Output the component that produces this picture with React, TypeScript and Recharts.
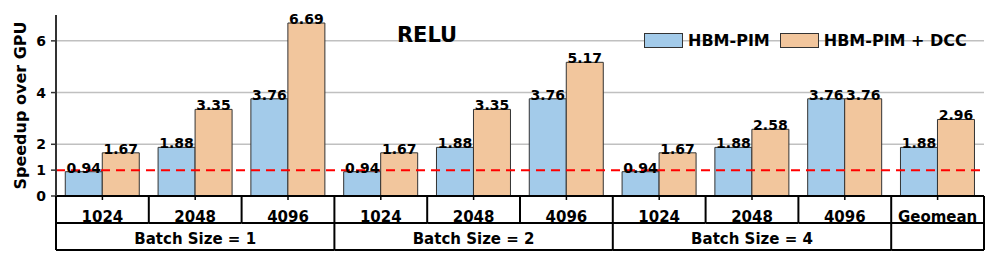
import React from 'react';
import { BarChart, Bar, XAxis, YAxis, CartesianGrid, ReferenceLine, LabelList, Legend } from 'recharts';

const sizes = ['1024', '2048', '4096', '1024', '2048', '4096', '1024', '2048', '4096', 'Geomean'];
const batchGroups = ['Batch Size = 1', 'Batch Size = 2', 'Batch Size = 4', ''];
const batchSpans = [3, 3, 3, 1];
const hbmPim = [0.94, 1.88, 3.76, 0.94, 1.88, 3.76, 0.94, 1.88, 3.76, 1.88];
const hbmPimDcc = [1.67, 3.35, 6.69, 1.67, 3.35, 5.17, 1.67, 2.58, 3.76, 2.96];
const yTicks = [0, 1, 2, 4, 6];
const gridValues = [2, 4, 6];
const titleText = 'RELU';
const yLabelText = 'Speedup over GPU';
const seriesNames = ['HBM-PIM', 'HBM-PIM + DCC'];
const seriesKeys = ['pim', 'dcc'];
const seriesColors = ['#A3CBEA', '#F2C69D'];

const data = sizes.map((s, i) => ({ key: i, size: s, pim: hbmPim[i], dcc: hbmPimDcc[i] }));

const FONT = '"DejaVu Sans", Verdana, sans-serif';
const W = 996;
const H = 258;
const PLOT_LEFT = 56;
const PLOT_RIGHT = 984;
const PLOT_TOP = 15;
const PLOT_BOTTOM = 196;
const ROW_H = 27;

const groupStarts: number[] = [];
{
  let acc = 0;
  for (const s of batchSpans) {
    groupStarts.push(acc);
    acc += s;
  }
}

const TableTick = (props: any) => {
  const { x, index } = props;
  const n = sizes.length;
  const bw = (PLOT_RIGHT - PLOT_LEFT) / n;
  const top = PLOT_BOTTOM;
  const mid = top + ROW_H;
  const bot = mid + ROW_H;
  const left = x - bw / 2;
  const right = x + bw / 2;
  const ls = { stroke: '#000', strokeWidth: 2 };
  const els: React.ReactNode[] = [];
  els.push(<line key="r1" x1={right} x2={right} y1={top} y2={mid} {...ls} />);
  els.push(<line key="h1" x1={left} x2={right} y1={mid} y2={mid} {...ls} />);
  if (index === 0) {
    els.push(<line key="l0" x1={left} x2={left} y1={top} y2={bot} {...ls} />);
  }
  els.push(
    <text key="t1" x={x} y={mid - 1} textAnchor="middle" fontFamily={FONT} fontWeight="bold" fontSize={15} fill="#000">
      {sizes[index]}
    </text>
  );
  const g = groupStarts.indexOf(index);
  if (g >= 0) {
    const gw = batchSpans[g] * bw;
    const gr = left + gw;
    els.push(<line key="r2" x1={gr} x2={gr} y1={mid} y2={bot} {...ls} />);
    els.push(<line key="h2" x1={left} x2={gr} y1={bot} y2={bot} {...ls} />);
    if (batchGroups[g]) {
      els.push(
        <text key="t2" x={left + gw / 2} y={mid + 20.5} textAnchor="middle" fontFamily={FONT} fontWeight="bold" fontSize={15} fill="#000">
          {batchGroups[g]}
        </text>
      );
    }
  }
  return <g>{els}</g>;
};

const YLabel = () => (
  <text
    x={25.5}
    y={(PLOT_TOP + PLOT_BOTTOM) / 2}
    transform={`rotate(-90, 25.5, ${(PLOT_TOP + PLOT_BOTTOM) / 2})`}
    textAnchor="middle"
    fontFamily={FONT}
    fontWeight="bold"
    fontSize={16}
    fill="#000"
  >
    {yLabelText}
  </text>
);

const LegendContent = () => (
  <div style={{ display: 'flex', alignItems: 'center', fontFamily: FONT, fontWeight: 'bold', fontSize: 16, color: '#000', whiteSpace: 'nowrap' }}>
    {seriesNames.map((name, i) => (
      <div key={name} style={{ display: 'flex', alignItems: 'center', marginRight: i === 0 ? 10 : 0 }}>
        <div style={{ width: 37, height: 13, background: seriesColors[i], border: '1px solid #333', marginRight: 5 }} />
        <span style={{ lineHeight: '19px' }}>{name}</span>
      </div>
    ))}
  </div>
);

export default function App() {
  return (
    <div style={{ position: 'absolute', left: 0, top: 0, width: W, height: H, background: '#fff' }}>
      <BarChart
        width={W}
        height={H}
        data={data}
        margin={{ top: PLOT_TOP, right: W - PLOT_RIGHT, bottom: 0, left: 0 }}
        barCategoryGap="10%"
        barGap={0}
      >
        <CartesianGrid vertical={false} horizontalValues={gridValues} stroke="#c0c0c0" strokeWidth={1.5} />
        <XAxis
          dataKey="key"
          type="category"
          interval={0}
          height={H - PLOT_BOTTOM}
          tickSize={4}
          tickLine={{ stroke: '#000', strokeWidth: 1.5 }}
          axisLine={{ stroke: '#000', strokeWidth: 2 }}
          tick={<TableTick />}
        />
        <YAxis
          width={PLOT_LEFT}
          domain={[0, 7]}
          ticks={yTicks}
          interval={0}
          tickSize={5}
          tickMargin={5}
          tick={{ fontFamily: FONT, fontWeight: 'bold', fontSize: 14, fill: '#000' }}
          tickLine={{ stroke: '#333', strokeWidth: 1.5 }}
          axisLine={{ stroke: '#333', strokeWidth: 2 }}
          label={<YLabel />}
        />
        <Legend
          layout="horizontal"
          verticalAlign="middle"
          align="center"
          content={<LegendContent />}
          wrapperStyle={{ top: 30.5, left: 644, width: 'auto' }}
        />
        {seriesKeys.map((k, i) => (
          <Bar key={k} dataKey={k} name={seriesNames[i]} fill={seriesColors[i]} stroke="#333" strokeWidth={1} isAnimationActive={false}>
            <LabelList dataKey={k} position="top" offset={-1} fontFamily={FONT} fontWeight="bold" fontSize={14} fill="#000" />
          </Bar>
        ))}
        <ReferenceLine y={1} stroke="#ff0000" strokeWidth={2} strokeDasharray="9 6" />
      </BarChart>
      <div
        style={{
          position: 'absolute',
          left: 327,
          width: 200,
          top: 23,
          textAlign: 'center',
          fontFamily: FONT,
          fontWeight: 'bold',
          fontSize: 21,
          color: '#000',
        }}
      >
        {titleText}
      </div>
    </div>
  );
}
